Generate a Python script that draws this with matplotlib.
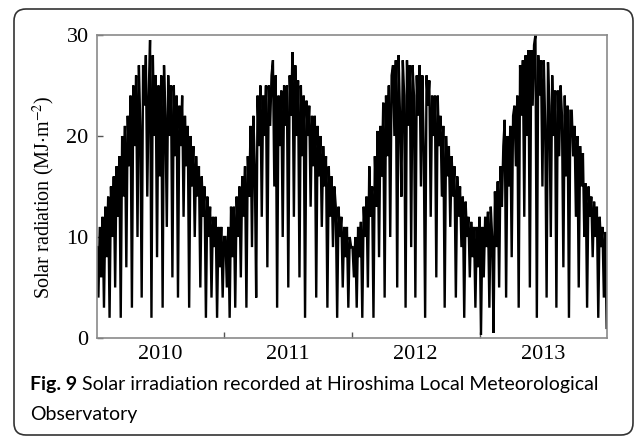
"""
Daily solar irradiation at Hiroshima, 2010-2013 (sampled every 4 days).
Saves out.png.
"""
import matplotlib
matplotlib.use("Agg")
import matplotlib.pyplot as plt
from matplotlib.patches import FancyBboxPatch
from matplotlib.transforms import IdentityTransform
import pandas as pd

# values, MJ/m2, one every 4 days
v2010 = [9, 4, 11, 6, 12, 3, 13, 8, 14, 2,
         15, 10, 16, 5, 17, 12, 18, 2, 20, 14,
         21, 7, 22, 17, 24, 3, 25, 19, 26, 10,
         27, 21, 4, 27, 23, 28, 14, 24, 29.5, 2,
         28, 20, 26, 8, 25, 16, 26, 3, 27, 22,
         11, 26, 20, 25, 6, 25, 18, 24, 4, 23,
         19, 24, 12, 22, 17, 21, 3, 20, 15, 19,
         10, 18, 14, 17, 5, 16, 12, 15, 2, 14,
         10, 13, 4, 12, 9, 12, 2, 11, 7, 11,
         4, 10]
v2011 = [10, 5, 11, 2, 13, 8, 13, 3, 14, 10,
         15, 6, 16, 12, 17, 3, 18, 14, 21, 9,
         22, 17, 4, 24, 19, 25, 12, 24, 20, 25,
         7, 25, 21, 26, 27.5, 15, 26, 3, 24, 19,
         24.5, 10, 25, 21, 25, 5, 26, 22, 28.3, 12,
         27, 20, 25.5, 6, 25, 18, 24, 2, 23.5, 20,
         23, 13, 22, 17, 22, 4, 21, 16, 20, 11,
         19, 15, 18, 3, 17, 12, 16, 9, 15, 13,
         2, 13, 10, 12, 5, 11, 8, 11, 3, 10,
         9]
v2012 = [9, 6, 10, 3, 11, 8, 11.5, 2, 13, 10,
         14, 5, 17, 12, 15, 2, 18, 13, 20.5, 8,
         21, 16, 23.3, 4, 24, 18, 25, 10, 26, 27,
         20, 27.5, 5, 28, 22, 14, 27.5, 24, 3, 27.5,
         21, 27, 9, 27, 24, 4, 26, 22, 27, 15,
         26, 19, 2, 26, 23, 25.5, 12, 24, 20, 24,
         6, 24, 19, 22, 14, 21, 3, 20, 16, 19,
         11, 18, 14, 17, 4, 16, 12, 15, 9, 14,
         2, 13.5, 10, 12, 6, 11.5, 8, 11, 3, 11,
         7, 12]
v2013 = [0.3, 11, 6, 12, 9, 12.5, 3, 13, 10, 0.5,
         14.5, 9, 15.5, 5, 17, 13, 19, 21.6, 4, 20,
         15, 21, 8, 22, 23, 17, 24, 3, 27, 22,
         27.5, 12, 28, 20, 28.5, 5, 28.5, 23, 29, 30,
         2, 28, 24, 27.5, 15, 27.5, 21, 4, 27.3, 23,
         10, 26, 20, 24.5, 3, 24.5, 18, 25, 22, 7,
         24, 16, 23, 2, 22.5, 22.5, 18, 21, 12, 20,
         5, 19, 15, 18.3, 10, 15.3, 3, 15, 12, 14,
         8, 13.5, 10, 13, 2, 12, 9, 11, 4, 10.5,
         1]

years = [2010, 2011, 2012, 2013]
y_ticks = [0, 10, 20, 30]

values = v2010 + v2011 + v2012 + v2013
dates = pd.date_range("2010-01-01", periods=len(values), freq="4D")

serif = "Liberation Serif"
cap_font = "Lato"
plt.rcParams["mathtext.fontset"] = "stix"

fig = plt.figure(figsize=(6.35, 4.36), dpi=100)
ax = fig.add_axes([97 / 635, 1 - 338 / 436, 510 / 635, 303 / 436])

ax.plot(dates, values, color="black", lw=1.7, solid_joinstyle="miter")

ax.set_xlim(pd.Timestamp("2010-01-01"), pd.Timestamp("2014-01-01"))
ax.set_ylim(0, 30)

# year boundaries as ticks, labels in the middle of each year
ax.set_xticks([pd.Timestamp(f"{y}-01-01") for y in years[1:]])
ax.set_xticklabels([])
ax.set_xticks([pd.Timestamp(f"{y}-07-02") for y in years], minor=True)
ax.set_xticklabels([str(y) for y in years], minor=True, fontfamily=serif, fontsize=16)
ax.tick_params(axis="x", which="major", direction="in", length=4, width=1, color="#555555")
ax.tick_params(axis="x", which="minor", length=0, pad=5)

ax.set_yticks(y_ticks)
ax.set_yticklabels([str(t) for t in y_ticks], fontfamily=serif, fontsize=16)
ax.tick_params(axis="y", direction="in", length=4, width=1, color="#555555", pad=6)

ax.set_ylabel(r"Solar radiation (MJ$\cdot$m$^{-2}$)", fontfamily=serif, fontsize=14.5)
ax.yaxis.set_label_coords(-0.078, 0.465)

for s in ax.spines.values():
    s.set_color("#8a8a8a")
    s.set_linewidth(1.2)

# caption under the chart: bold "Fig. 9" then the plain text right after it
cap_y = 1 - 384 / 436
fig_lbl = fig.text(30 / 635, cap_y, "Fig. 9", fontfamily=cap_font, fontweight="bold",
                   fontsize=14, va="center", ha="left")
fig.canvas.draw()
bb = fig_lbl.get_window_extent()
fig.text((bb.x1 + 5) / 635, cap_y, "Solar irradiation recorded at Hiroshima Local Meteorological",
         fontfamily=cap_font, fontsize=14, va="center", ha="left")
fig.text(30 / 635, 1 - 414 / 436, "Observatory", fontfamily=cap_font, fontsize=14,
         va="center", ha="left")

# rounded frame around the figure
frame = FancyBboxPatch((14, 1), 619, 426, boxstyle="round,pad=0,rounding_size=12",
                       transform=IdentityTransform(), fill=False, edgecolor="#333333",
                       linewidth=1.2)
fig.add_artist(frame)

fig.savefig("out.png", dpi=100)
